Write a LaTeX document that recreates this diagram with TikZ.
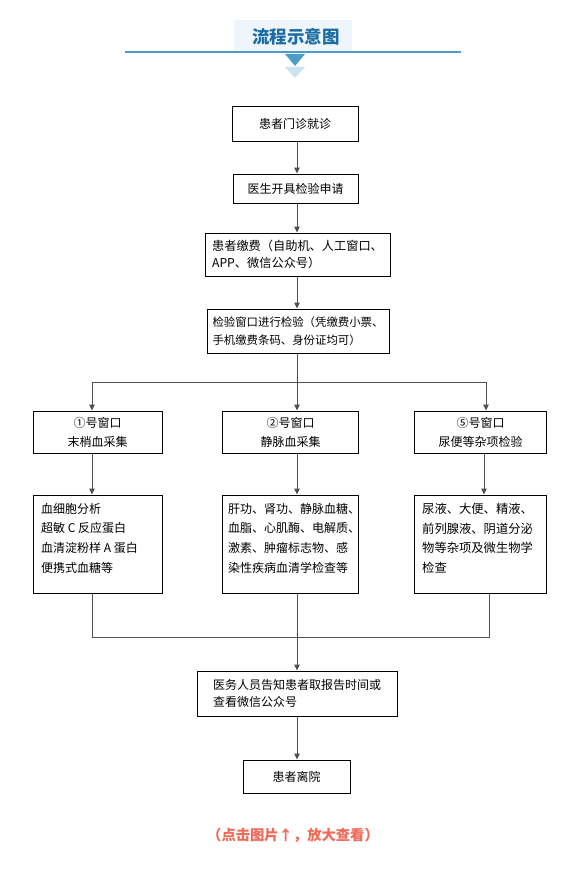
\documentclass[tikz,border=0pt]{standalone}
\usepackage{fontspec}
\setmainfont{Noto Sans CJK SC}
\usetikzlibrary{arrows.meta}
\definecolor{titleblue}{HTML}{1B6DA3}
\definecolor{lineblue}{HTML}{4B9CC6}
\definecolor{lightblue}{HTML}{CDE3F0}
\definecolor{titlebg}{HTML}{EEF5FB}
\definecolor{footred}{HTML}{F06A58}
\definecolor{conn}{HTML}{505050}
\tikzset{
  box/.style={draw=black, line width=1pt, fill=white, inner sep=0pt, font=\fontsize{12}{17}\selectfont},
  txt/.style={inner sep=0pt, align=left, anchor=north west, font=\fontsize{12}{19.6}\selectfont},
  link/.style={draw=conn, line width=1pt},
  arr/.style={link, -{Triangle[width=5.5pt,length=6pt]}},
}
\begin{document}
\begin{tikzpicture}[x=1pt,y=-1pt]
\useasboundingbox (0,0) rectangle (588,872);
% title
\fill[titlebg] (234,20) rectangle (352,52);
\node[font=\fontsize{17.5}{20}\selectfont\bfseries, text=titleblue] (title) at (296,36.5) {流程示意图};
\draw[lineblue, line width=2pt] (125,52.5) -- (461,52.5);
\fill[lineblue] (285,54) -- (305,54) -- (295,66) -- cycle;
\fill[lightblue] (285,67) -- (305,67) -- (295,78) -- cycle;

\coordinate (spine) at (297,0);

\node[box, minimum width=126pt, minimum height=34pt] (b1) at (295,124) {患者门诊就诊};
\node[box, minimum width=125pt, minimum height=29pt] (b2) at (295.5,188.5) {医生开具检验申请};
\node[box, minimum width=185pt, minimum height=43pt, align=left, font=\fontsize{12.2}{17}\selectfont] (b3) at (297.5,254.5) {患者缴费（自助机、人工窗口、\\APP、微信公众号）};
\node[box, minimum width=182pt, minimum height=44pt, align=left, font=\fontsize{11.4}{18}\selectfont] (b4) at (298,331) {检验窗口进行检验（凭缴费小票、\\手机缴费条码、身份证均可）};

\node[box, minimum width=129pt, minimum height=42pt, align=center, font=\fontsize{12}{19}\selectfont] (w1) at (97.5,432) {①号窗口\\末梢血采集};
\node[box, minimum width=136pt, minimum height=42pt, align=center, font=\fontsize{12}{19}\selectfont] (w2) at (290.5,432) {②号窗口\\静脉血采集};
\node[box, minimum width=132pt, minimum height=42pt, align=center, font=\fontsize{12}{19}\selectfont] (w3) at (480.5,432) {⑤号窗口\\尿便等杂项检验};

\node[box, minimum width=129pt, minimum height=98pt] (c1) at (97.5,544) {};
\node[box, minimum width=136pt, minimum height=98pt] (c2) at (290.5,544) {};
\node[box, minimum width=132pt, minimum height=98pt] (c3) at (480.5,544) {};
\node[txt] (c1t) at (41,503) {血细胞分析\\超敏 C 反应蛋白\\血清淀粉样 A 蛋白\\便携式血糖等};
\node[txt] (c2t) at (228,503) {肝功、肾功、静脉血糖、\\血脂、心肌酶、电解质、\\激素、肿瘤标志物、感\\染性疾病血清学检查等};
\node[txt, font=\fontsize{12.3}{19.6}\selectfont] (c3t) at (422,503) {尿液、大便、精液、\\前列腺液、阴道分泌\\物等杂项及微生物学\\检查};

\node[box, minimum width=200pt, minimum height=45pt, align=left, font=\fontsize{12}{17.5}\selectfont] (b5) at (297,693.5) {医务人员告知患者取报告时间或\\查看微信公众号};
\node[box, minimum width=107pt, minimum height=33pt] (b6) at (296.5,776.5) {患者离院};

\node[font=\fontsize{14.3}{16}\selectfont\bfseries, text=footred] (foot) at (293,835) {（点击图片↑，放大查看）};

% connectors
\draw[arr] (b1.south -| spine) -- (b2.north -| spine);
\draw[arr] (b2.south -| spine) -- (b3.north -| spine);
\draw[arr] (b3.south -| spine) -- (b4.north -| spine);

\coordinate (sl) at (92,382);
\coordinate (sm) at (297,382);
\coordinate (sr) at (486,382);
\draw[link] (b4.south -| spine) -- (sm);
\draw[link] (sl) -- (sr);
\draw[arr] (sl) -- (w1.north -| sl);
\draw[arr] (sm) -- (w2.north -| sm);
\draw[arr] (sr) -- (w3.north -| sr);

\coordinate (ax) at (484,0);
\draw[arr] (w1.south -| sl) -- (c1.north -| sl);
\draw[arr] (w2.south -| sm) -- (c2.north -| sm);
\draw[arr] (w3.south -| ax) -- (c3.north -| ax);

\coordinate (jl) at (92,637);
\coordinate (jm) at (297,637);
\coordinate (jr) at (489,637);
\draw[link] (c1.south -| jl) -- (jl) -- (jr) -- (c3.south -| jr);
\draw[link] (c2.south -| jm) -- (jm);
\draw[arr] (jm) -- (b5.north -| jm);
\draw[arr] (b5.south -| spine) -- (b6.north -| spine);
\end{tikzpicture}
\end{document}
